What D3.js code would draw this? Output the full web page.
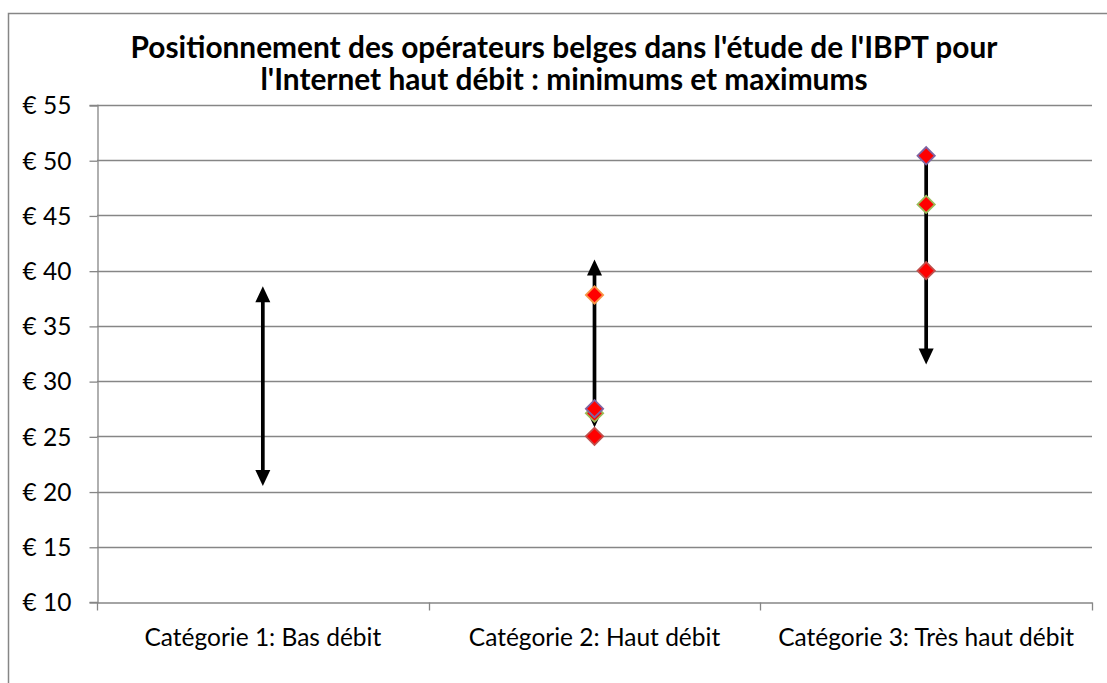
<!DOCTYPE html>
<html>
<head>
<meta charset="utf-8">
<script src="https://cdn.jsdelivr.net/npm/d3@7"></script>
<style>
  html, body { margin: 0; padding: 0; background: #fff; }
  svg { display: block; }
  text { font-family: Lato, "Open Sans", sans-serif; fill: #000; }
</style>
</head>
<body>
<svg id="chart" width="1107" height="683"></svg>
<script>
"use strict";

// ---- data ----
var categories = ["Catégorie 1: Bas débit", "Catégorie 2: Haut débit", "Catégorie 3: Très haut débit"];
var titleLines = ["Positionnement des opérateurs belges dans l'étude de l'IBPT pour",
                  "l'Internet haut débit : minimums et maximums"];
var yTicks = [10, 15, 20, 25, 30, 35, 40, 45, 50, 55];

// range arrows (min / max per category)
var arrowHigh = [38.6, 41.0, 50.4];
var arrowLow = [20.5, 25.8, 31.5];
var headHigh = [true, true, false];
var headLow = [true, true, true];

// operators (marker series), null = no point
var seriesRed = [null, 25.0, 40.0];
var seriesGreen = [null, 27.1, 46.0];
var seriesOrange = [null, 37.8, null];
var seriesPurple = [null, 27.5, 50.4];

var markerSeries = [
    {values: seriesRed, edge: "#c0504d"},
    {values: seriesGreen, edge: "#9bbb59"},
    {values: seriesOrange, edge: "#f79646"},
    {values: seriesPurple, edge: "#8064a2"}
];

// ---- layout ----
var svg = d3.select("#chart");
var plot = {left: 97, right: 1092, top: 105, bottom: 602};
var gridColor = "#868686";

var x = d3.scaleBand().domain(categories).range([plot.left, plot.right]).padding(0);
var y = d3.scaleLinear().domain([10, 55]).range([plot.bottom, plot.top]);

// outer chart frame (runs past the right / bottom of the picture)
svg.append("rect")
  .attr("x", 8.5).attr("y", 13.5)
  .attr("width", 1130).attr("height", 700)
  .attr("fill", "none").attr("stroke", gridColor).attr("stroke-width", 1.5);

// title, sized to the width it takes in the reference
var title = svg.append("g").attr("class", "title");
var titleText = title.selectAll("text").data(titleLines).enter().append("text")
  .attr("text-anchor", "middle")
  .attr("font-weight", "bold")
  .attr("font-size", 24)
  .attr("x", 564)
  .attr("y", function(d, i) { return i === 0 ? 58 : 90; })
  .text(function(d) { return d; });
var w0 = titleText.node().getComputedTextLength();
titleText.attr("font-size", 24 * 867 / w0);

// gridlines
svg.append("g").attr("class", "grid")
  .selectAll("line").data(yTicks.slice(1)).enter().append("line")
  .attr("x1", plot.left).attr("x2", plot.right)
  .attr("y1", function(d) { return Math.round(y(d)) + 0.5; })
  .attr("y2", function(d) { return Math.round(y(d)) + 0.5; })
  .attr("stroke", gridColor).attr("stroke-width", 1.3);

// y axis
var yAxis = svg.append("g")
  .attr("transform", "translate(" + (plot.left + 0.5) + ",0)")
  .call(d3.axisLeft(y).tickValues(yTicks).tickSize(8).tickPadding(18)
        .tickFormat(function(d) { return "€ " + d; }));
yAxis.select(".domain").attr("stroke", gridColor).attr("stroke-width", 1.3);
yAxis.selectAll(".tick line").attr("stroke", gridColor).attr("stroke-width", 1.3)
  .attr("transform", "translate(0,0.5)");
yAxis.selectAll(".tick text").attr("font-family", "Lato").attr("dy", "0.36em");

// x axis: labels centred, ticks on category boundaries
var xAxis = svg.append("g")
  .attr("transform", "translate(0," + (Math.round(y(10)) + 0.5) + ")")
  .call(d3.axisBottom(x).tickSize(0).tickPadding(0));
xAxis.select(".domain").attr("stroke", gridColor).attr("stroke-width", 1.3);
var catText = xAxis.selectAll(".tick text")
  .attr("font-size", 18).attr("font-family", "Lato")
  .attr("dy", 0).attr("y", 43);
var cw = catText.node().getComputedTextLength();
var labelSize = 18 * 237 / cw;
catText.attr("font-size", labelSize);
yAxis.selectAll(".tick text").attr("font-size", labelSize);

xAxis.selectAll(".bound").data(d3.range(categories.length + 1)).enter().append("line")
  .attr("class", "bound")
  .attr("x1", function(i) { return Math.round(plot.left + i * x.step()) + 0.5; })
  .attr("x2", function(i) { return Math.round(plot.left + i * x.step()) + 0.5; })
  .attr("y1", 0).attr("y2", 8)
  .attr("stroke", gridColor).attr("stroke-width", 1.3);

// arrows
var headLen = 16, headHalf = 7.5;
var arrows = svg.append("g").attr("class", "arrows");
categories.forEach(function(c, i) {
    var cx = x(c) + x.bandwidth() / 2;
    var yHi = y(arrowHigh[i]), yLo = y(arrowLow[i]);
    var yStart = headHigh[i] ? yHi + headLen - 1 : yHi;
    var yEnd = headLow[i] ? yLo - headLen + 1 : yLo;
    arrows.append("line")
      .attr("x1", cx).attr("x2", cx).attr("y1", yStart).attr("y2", yEnd)
      .attr("stroke", "#000").attr("stroke-width", 3.7);
    if(headHigh[i]) {
        arrows.append("path")
          .attr("d", "M" + cx + "," + yHi + "L" + (cx + headHalf) + "," + (yHi + headLen) +
                "L" + (cx - headHalf) + "," + (yHi + headLen) + "Z")
          .attr("fill", "#000");
    }
    if(headLow[i]) {
        arrows.append("path")
          .attr("d", "M" + cx + "," + yLo + "L" + (cx + headHalf) + "," + (yLo - headLen) +
                "L" + (cx - headHalf) + "," + (yLo - headLen) + "Z")
          .attr("fill", "#000");
    }
});

// diamond markers
var diamond = d3.symbol().type(d3.symbolSquare).size(150);
var marks = svg.append("g").attr("class", "markers");
markerSeries.forEach(function(s) {
    var pts = categories.map(function(c, i) { return {cat: c, v: s.values[i]}; })
      .filter(function(d) { return d.v !== null; });
    marks.selectAll(null).data(pts).enter().append("path")
      .attr("d", diamond)
      .attr("transform", function(d) {
          return "translate(" + (x(d.cat) + x.bandwidth() / 2) + "," + y(d.v) + ") rotate(45)";
      })
      .attr("fill", "#ff0000")
      .attr("stroke", s.edge).attr("stroke-width", 1.8);
});
</script>
</body>
</html>
